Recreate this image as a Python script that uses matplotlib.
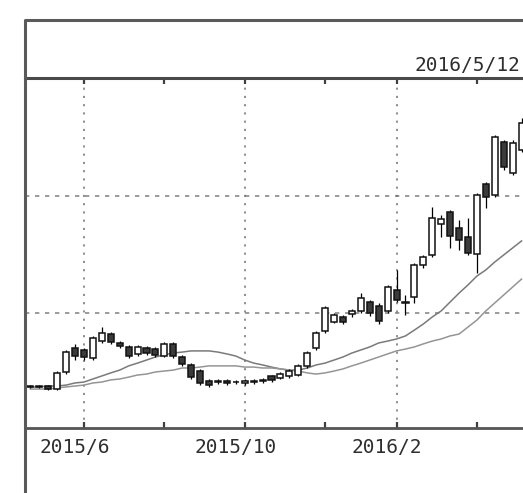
import numpy as np
import pandas as pd
import matplotlib
matplotlib.use("Agg")
import matplotlib.pyplot as plt
from matplotlib.lines import Line2D
from matplotlib.transforms import ScaledTranslation, blended_transform_factory

# ---------------- data ----------------
weeks = pd.date_range("2015-04-20", "2016-05-09", freq="W-MON")

open_ = [1188, 1184, 1188, 1175, 1248, 1350, 1342, 1308, 1380, 1410,
         1372, 1355, 1325, 1350, 1346, 1316, 1368, 1312, 1278, 1252,
         1209, 1205, 1209, 1205, 1201, 1209, 1209, 1231, 1222, 1231,
         1235, 1274, 1350, 1423, 1462, 1483, 1496, 1509, 1547, 1530,
         1509, 1598, 1547, 1568, 1705, 1748, 1880, 1932, 1863, 1825,
         1752, 2051, 2004, 2231, 2098, 2197]
close = [1184, 1188, 1175, 1244, 1333, 1316, 1312, 1393, 1415, 1376,
         1359, 1316, 1355, 1329, 1321, 1368, 1316, 1282, 1226, 1201,
         1192, 1209, 1201, 1206, 1209, 1205, 1214, 1214, 1239, 1252,
         1274, 1329, 1415, 1521, 1491, 1462, 1509, 1564, 1500, 1466,
         1611, 1556, 1543, 1705, 1739, 1906, 1902, 1829, 1812, 1756,
         2004, 1996, 2252, 2124, 2227, 2312]
high = [1192, 1192, 1192, 1252, 1342, 1368, 1350, 1402, 1440, 1419,
        1380, 1363, 1363, 1359, 1355, 1376, 1376, 1321, 1286, 1261,
        1218, 1218, 1218, 1214, 1218, 1218, 1222, 1235, 1248, 1261,
        1282, 1338, 1423, 1530, 1500, 1491, 1517, 1585, 1556, 1543,
        1620, 1684, 1577, 1714, 1748, 1953, 1919, 1940, 1897, 1906,
        2013, 2060, 2261, 2239, 2239, 2333]
low = [1180, 1180, 1171, 1171, 1239, 1299, 1299, 1299, 1372, 1368,
       1350, 1308, 1316, 1321, 1312, 1312, 1308, 1274, 1218, 1192,
       1184, 1197, 1192, 1197, 1192, 1197, 1201, 1205, 1218, 1222,
       1231, 1265, 1342, 1415, 1457, 1453, 1483, 1500, 1487, 1453,
       1500, 1547, 1491, 1543, 1692, 1739, 1825, 1778, 1769, 1748,
       1671, 1949, 1996, 2111, 2090, 2188]

ma_fast = [1184, 1184, 1188, 1188, 1192, 1201, 1205, 1218, 1231, 1244,
           1256, 1274, 1286, 1299, 1312, 1321, 1329, 1333, 1338, 1338,
           1338, 1333, 1325, 1316, 1299, 1286, 1278, 1269, 1261, 1256,
           1256, 1265, 1278, 1286, 1299, 1312, 1329, 1342, 1355, 1372,
           1380, 1389, 1402, 1427, 1453, 1483, 1509, 1547, 1585, 1620,
           1658, 1684, 1718, 1748, 1778, 1808]
ma_slow = [1175, 1175, 1175, 1180, 1184, 1188, 1192, 1201, 1205, 1214,
           1218, 1226, 1235, 1239, 1248, 1252, 1256, 1265, 1265, 1269,
           1274, 1274, 1274, 1274, 1269, 1269, 1265, 1265, 1261, 1256,
           1252, 1244, 1239, 1244, 1252, 1261, 1274, 1286, 1299, 1312,
           1325, 1338, 1346, 1355, 1368, 1380, 1389, 1402, 1410, 1440,
           1470, 1509, 1543, 1577, 1611, 1645]

grid_prices = [1500, 2000]
tick_months = [6, 8, 10, 12, 2, 4]
label_months = [6, 10, 2]
header_date = "2016/5/12"

# ---------------- figure ----------------
plt.rcParams["font.family"] = ["DejaVu Sans Mono"]
W, H = 523, 493
fig = plt.figure(figsize=(W / 100, H / 100), dpi=100)
fig.patch.set_facecolor("white")


def fx(x):
    return x / W


def fy(y):
    return 1 - y / H


ax = fig.add_axes([fx(25), fy(428), (540 - 25) / W, 350 / H])
x = np.arange(len(weeks))

# tick positions: first week of selected months
tick_pos, tick_lab = [], []
for i, d in enumerate(weeks):
    if i > 0 and d.month != weeks[i - 1].month and d.month in tick_months:
        tick_pos.append(i)
        tick_lab.append(f"{d.year}/{d.month}" if d.month in label_months else "")

# grid
for p in grid_prices:
    ax.axhline(p, color="#8a8a8a", lw=1.2, linestyle=(0, (2.6, 3.4)), zorder=1)
for pos, lab in zip(tick_pos, tick_lab):
    if lab:
        ax.axvline(pos, color="#707070", lw=1.1, linestyle=(0, (1.4, 4.0)), zorder=1)

# moving averages
ax.plot(x, ma_fast, color="#7a7a7a", lw=1.1, zorder=2)
ax.plot(x, ma_slow, color="#959595", lw=1.1, zorder=2)

# candles
o = np.array(open_, float)
c = np.array(close, float)
ax.vlines(x, low, high, color="black", lw=0.9, zorder=3)
up = c >= o
bottoms = np.minimum(o, c)
heights = np.maximum(np.abs(c - o), 0.5)
ax.bar(x[up], heights[up], bottom=bottoms[up], width=0.68, color="white",
       edgecolor="#111111", linewidth=1.1, zorder=4)
ax.bar(x[~up], heights[~up], bottom=bottoms[~up], width=0.68, color="#3a3a3a",
       edgecolor="#111111", linewidth=1.1, zorder=4)

# axes limits (index axis)
ax.set_xlim(6 + (25 - 84) / 8.93, 6 + (540 - 84) / 8.93)
ax.set_ylim(1008.55, 2504.27)

# spines
ax.spines["left"].set_visible(False)
ax.spines["right"].set_visible(False)
ax.spines["top"].set_linewidth(2.2)
ax.spines["top"].set_color("#4a4a4a")
ax.spines["bottom"].set_linewidth(2.0)
ax.spines["bottom"].set_color("#555555")

ax.set_yticks([])
ax.set_xticks(tick_pos)
ax.set_xticklabels([""] * len(tick_pos))
ax.tick_params(axis="x", direction="in", length=4, width=1.6, color="#404040",
               top=True, bottom=True)

# tick labels (drawn as text, shifted left like the reference)
trans = blended_transform_factory(ax.transData, ax.transAxes)
for pos, lab in zip(tick_pos, tick_lab):
    if lab:
        ax.text(pos, 0, lab, transform=trans + ScaledTranslation(-9.5 / 100, -25 / 100, fig.dpi_scale_trans),
                ha="center", va="baseline", fontsize=14, color="#2e2e2e", clip_on=False)

# outer frame
fig.add_artist(Line2D([fx(25), fx(25), fx(540)], [fy(500), fy(20), fy(20)],
                      transform=fig.transFigure, lw=2.2, color="#5a5a5a",
                      solid_joinstyle="round"))

# header date (kept fully inside the picture)
fig.text(fx(414), fy(71), header_date, ha="left", va="baseline", fontsize=14,
         color="#2e2e2e")

fig.savefig("out.png", dpi=100)
